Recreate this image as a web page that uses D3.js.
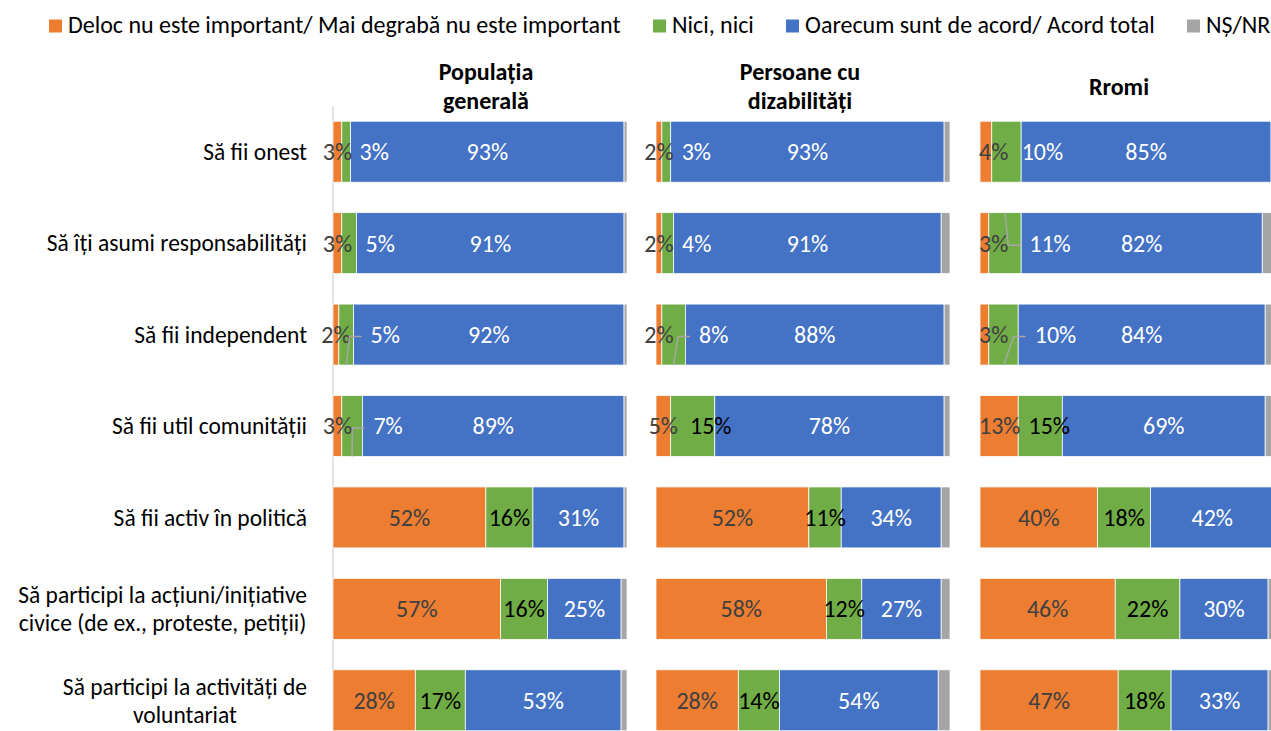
<!DOCTYPE html>
<meta charset="utf-8">

<!-- Load d3.js -->
<script src="https://d3js.org/d3.v7.min.js"></script>

<style>
    body { margin: 0; background: #ffffff; }
    svg text { font-family: Calibri, Carlito, Lato, sans-serif; }
</style>

<!-- Create a div where the graph will take place -->
<div id="my_dataviz"></div>

<script>

    // rows ("|" = line break)
    var categories = [
        "Să fii onest",
        "Să îți asumi responsabilități",
        "Să fii independent",
        "Să fii util comunității",
        "Să fii activ în politică",
        "Să participi la acțiuni/inițiative|civice (de ex., proteste, petiții)",
        "Să participi la activități de|voluntariat"
    ];

    var groups = ["Populația|generală", "Persoane cu|dizabilități", "Rromi"];

    var seriesNames = [
        "Deloc nu este important/ Mai degrabă nu este important",
        "Nici, nici",
        "Oarecum sunt de acord/ Acord total",
        "NȘ/NR"
    ];

    // Populația generală (%)
    var popNu   = [3, 3, 2, 3, 52, 57, 28];
    var popNici = [3, 5, 5, 7, 16, 16, 17];
    var popDa   = [93, 91, 92, 89, 31, 25, 53];
    var popNs   = [1, 1, 1, 1, 1, 2, 2];

    // Persoane cu dizabilități (%)
    var disNu   = [2, 2, 2, 5, 52, 58, 28];
    var disNici = [3, 4, 8, 15, 11, 12, 14];
    var disDa   = [93, 91, 88, 78, 34, 27, 54];
    var disNs   = [2, 3, 2, 2, 3, 3, 4];

    // Rromi (%)
    var romNu   = [4, 3, 3, 13, 40, 46, 47];
    var romNici = [10, 11, 10, 15, 18, 22, 18];
    var romDa   = [85, 82, 84, 69, 42, 30, 33];
    var romNs   = [1, 4, 3, 3, 0, 2, 2];

    var groupValues = [
        [popNu, popNici, popDa, popNs],
        [disNu, disNici, disDa, disNs],
        [romNu, romNici, romDa, romNs]
    ];

    var colors = ["#ED7D31", "#70AD47", "#4472C4", "#A5A5A5"];
    var labelColors = ["#404040", "#000000", "#ffffff"];

    // green labels that Excel moved to the right (px), some with a leader line
    var shifted = [
        {g: 0, r: 0, dx: 28, white: true}, {g: 0, r: 1, dx: 31, white: true},
        {g: 0, r: 2, dx: 39, white: true, leader: "down"}, {g: 0, r: 3, dx: 36, white: true, leader: "down"},
        {g: 1, r: 0, dx: 30, white: true}, {g: 1, r: 1, dx: 29, white: true},
        {g: 1, r: 2, dx: 40, white: true, leader: "down"}, {g: 1, r: 3, dx: 18},
        {g: 2, r: 0, dx: 36, white: true}, {g: 2, r: 1, dx: 45, white: true, leader: "up"},
        {g: 2, r: 2, dx: 52, white: true, leader: "down"}, {g: 2, r: 3, dx: 9}
    ];

    // layout
    var width = 1271, height = 731;
    var panelLeft = [333, 656, 980],
        panelWidth = 294,
        titleShift = [6, -3, -8],
        labelMinX = [0, 0, 979];
    var fontSize = 24, rowFontSize = 23.5;

    var svg = d3.select("#my_dataviz")
        .append("svg")
        .attr("width", width)
        .attr("height", height);

    // Y scale shared by the three panels
    var y = d3.scaleBand()
        .domain(categories)
        .range([106, 746])
        .paddingInner(1 / 3)
        .paddingOuter(1 / 6);

    // Legend
    var legendX = [49, 653, 786, 1187];
    var legend = svg.selectAll(".legend")
        .data(seriesNames)
        .enter().append("g")
        .attr("class", "legend")
        .attr("transform", function (d, i) { return "translate(" + legendX[i] + ",0)"; });
    legend.append("rect")
        .attr("x", 0).attr("y", 19.5)
        .attr("width", 13).attr("height", 13)
        .attr("fill", function (d, i) { return colors[i]; });
    legend.append("text")
        .attr("x", 19).attr("y", 33)
        .attr("font-size", fontSize + "px")
        .attr("fill", "#000")
        .text(function (d) { return d; });

    // Row labels (multi-line ones: centred lines, block right-aligned)
    var rowLabels = svg.selectAll(".rowLabel")
        .data(categories)
        .enter().append("text")
        .attr("class", "rowLabel")
        .attr("font-size", rowFontSize + "px")
        .attr("fill", "#000")
        .attr("text-anchor", "middle");
    rowLabels.each(function (d) {
        var t = d3.select(this);
        var lines = d.split("|");
        var yc = y(d) + y.bandwidth() / 2;
        var spans = lines.map(function (line, i) {
            return t.append("tspan")
                .attr("y", yc + (i - (lines.length - 1) / 2) * 28)
                .attr("dy", "0.35em")
                .text(line);
        });
        var maxW = d3.max(spans, function (s) { return s.node().getComputedTextLength(); });
        spans.forEach(function (s) { s.attr("x", 307 - maxW / 2); });
    });

    // vertical axis line of the first chart
    svg.append("g")
        .attr("transform", "translate(332.5,0)")
        .call(d3.axisLeft(y).tickSize(0).tickFormat(""))
        .call(function (g) { g.select(".domain").attr("stroke", "#D9D9D9").attr("stroke-width", 1.5); });

    groups.forEach(function (groupName, g) {

        var x = d3.scaleLinear()
            .domain([0, 100])
            .range([panelLeft[g], panelLeft[g] + panelWidth]);

        var table = categories.map(function (c, r) {
            var row = {cat: c};
            groupValues[g].forEach(function (vals, s) { row["s" + s] = vals[r]; });
            return row;
        });
        var stacked = d3.stack().keys(["s0", "s1", "s2", "s3"])(table);

        var panel = svg.append("g")
            .attr("class", "panel");

        // Title
        var title = panel.append("text")
            .attr("text-anchor", "middle")
            .attr("font-size", fontSize + "px")
            .attr("font-weight", "bold")
            .attr("fill", "#000");
        var tl = groupName.split("|");
        tl.forEach(function (line, i) {
            title.append("tspan")
                .attr("x", panelLeft[g] + panelWidth / 2 + titleShift[g])
                .attr("y", 86.5 + (i - (tl.length - 1) / 2) * 29)
                .attr("dy", "0.35em")
                .text(line);
        });

        // Bars
        panel.selectAll(".layer")
            .data(stacked)
            .enter().append("g")
            .attr("class", "layer")
            .attr("fill", function (d, i) { return colors[i]; })
            .selectAll("rect")
            .data(function (d) { return d; })
            .enter().append("rect")
            .attr("x", function (d) { return x(d[0]); })
            .attr("y", function (d) { return y(d.data.cat); })
            .attr("width", function (d) { return x(d[1]) - x(d[0]); })
            .attr("height", y.bandwidth())
            .attr("stroke", "#ffffff")
            .attr("stroke-width", 0.75);

        // Value labels (NȘ/NR has none)
        stacked.slice(0, 3).forEach(function (layer, s) {
            layer.forEach(function (d, r) {
                var v = d[1] - d[0];
                var cx = (x(d[0]) + x(d[1])) / 2;
                var yc = y(d.data.cat) + y.bandwidth() / 2;
                var color = labelColors[s];
                var move = null;
                if (s === 1) {
                    move = shifted.find(function (m) { return m.g === g && m.r === r; });
                    if (move) {
                        cx += move.dx;
                        if (move.white) color = "#ffffff";
                    }
                }
                var label = panel.append("text")
                    .attr("y", yc)
                    .attr("dy", "0.35em")
                    .attr("text-anchor", "middle")
                    .attr("font-size", fontSize + "px")
                    .attr("fill", color)
                    .text(v + "%");
                var w = label.node().getComputedTextLength();
                // keep the label inside its chart area
                cx = Math.max(cx, labelMinX[g] + w / 2);
                label.attr("x", cx);

                if (move && move.leader) {
                    var left = cx - w / 2;
                    var ly = yc + 2;
                    var endY = move.leader === "down" ? y(d.data.cat) + y.bandwidth() : y(d.data.cat);
                    var segMid = (x(d[0]) + x(d[1])) / 2;
                    panel.append("polyline")
                        .attr("points", [[left - 9, ly], [left - 21, ly], [segMid, endY]].join(" "))
                        .attr("fill", "none")
                        .attr("stroke", "#A6A6A6")
                        .attr("stroke-width", 1.5);
                }
            });
        });
    });

</script>
